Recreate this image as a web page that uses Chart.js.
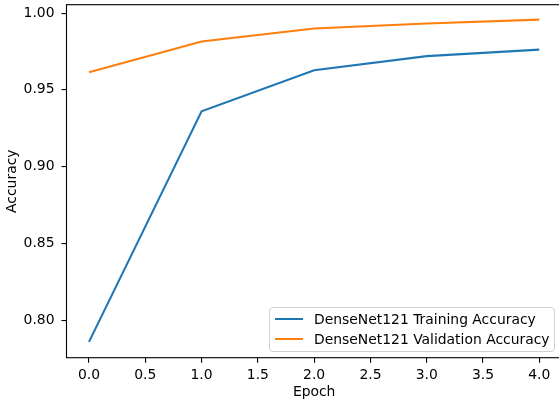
<!DOCTYPE html>
<html>
<head>
<meta charset="utf-8">
<script src="https://cdn.jsdelivr.net/npm/chart.js@4"></script>
<style>
    html, body { margin: 0; padding: 0; background: #fff; overflow: hidden; }
    #wrap { position: relative; width: 565px; height: 403px; }
    #legend {
        position: absolute; left: 269px; top: 307px; width: 284px; height: 42px;
        background: rgba(255,255,255,0.8); border: 1px solid #d0d0d0; border-radius: 4px;
        font-family: "DejaVu Sans", sans-serif; font-size: 13.9px; color: #000;
        padding-top: 1px;
    }
    .leg-row { display: flex; align-items: center; height: 20px; }
    .leg-line { width: 28px; height: 2px; margin-left: 5px; margin-right: 11px; }
</style>
</head>
<body>
<div id="wrap">
    <canvas id="accChart" width="565" height="403"></canvas>
    <div id="legend"></div>
</div>
<script>
// values
const epochs = [0, 1, 2, 3, 4];
const trainAcc = [0.7858, 0.9360, 0.9628, 0.9720, 0.9762];
const valAcc = [0.9615, 0.9815, 0.9900, 0.9933, 0.9958];
const seriesLabels = ['DenseNet121 Training Accuracy', 'DenseNet121 Validation Accuracy'];
const xTicks = [0, 0.5, 1, 1.5, 2, 2.5, 3, 3.5, 4];
const yTicks = [0.80, 0.85, 0.90, 0.95, 1.00];

const colors = ['#1f77b4', '#ff7f0e'];
const font = { family: 'DejaVu Sans', size: 13.9 };

const toPoints = (ys) => ys.map((y, i) => ({ x: epochs[i], y: y }));

// matplotlib-like box around the axes
const framePlugin = {
    id: 'frame',
    afterDraw(chart) {
        const a = chart.chartArea;
        const ctx = chart.ctx;
        ctx.save();
        ctx.strokeStyle = '#000';
        ctx.lineWidth = 1.1;
        ctx.strokeRect(a.left, a.top, a.right - a.left, a.bottom - a.top);
        ctx.restore();
    }
};

const chart = new Chart(document.getElementById('accChart').getContext('2d'), {
    type: 'line',
    data: {
        datasets: [
            { label: seriesLabels[0], data: toPoints(trainAcc), borderColor: colors[0], borderWidth: 2.1, pointRadius: 0, tension: 0, fill: false },
            { label: seriesLabels[1], data: toPoints(valAcc), borderColor: colors[1], borderWidth: 2.1, pointRadius: 0, tension: 0, fill: false }
        ]
    },
    options: {
        responsive: false,
        animation: false,
        layout: { padding: { top: 4.7, right: 3.2, left: 0, bottom: 0 } },
        plugins: { legend: { display: false }, tooltip: { enabled: false } },
        scales: {
            x: {
                type: 'linear', min: -0.2, max: 4.2,
                afterBuildTicks: (s) => { s.ticks = xTicks.map(v => ({ value: v })); },
                afterFit: (s) => { s.height = 45.3; s.paddingLeft = 0; s.paddingRight = 0; },
                grid: { drawOnChartArea: false, drawTicks: true, tickLength: 5, color: '#000', lineWidth: 1.1 },
                border: { display: false },
                ticks: { font: font, color: '#000', padding: 4, maxRotation: 0, autoSkip: false,
                    callback: (v) => Number(v).toFixed(1) },
                title: { display: true, text: 'Epoch', font: font, color: '#000', padding: { top: 4, bottom: 2 } }
            },
            y: {
                type: 'linear', min: 0.7755, max: 1.0055,
                afterBuildTicks: (s) => { s.ticks = yTicks.map(v => ({ value: v })); },
                afterFit: (s) => { s.width = 66.5; s.paddingTop = 0; s.paddingBottom = 0; },
                grid: { drawOnChartArea: false, drawTicks: true, tickLength: 5, color: '#000', lineWidth: 1.1 },
                border: { display: false },
                ticks: { font: font, color: '#000', padding: 7, autoSkip: false,
                    callback: (v) => Number(v).toFixed(2) },
                title: { display: true, text: 'Accuracy', font: font, color: '#000', padding: { top: 4, bottom: 4 } }
            }
        }
    },
    plugins: [framePlugin]
});

// legend as html, inside the plot area at lower right
const legend = document.getElementById('legend');
chart.data.datasets.forEach((ds) => {
    const row = document.createElement('div');
    row.className = 'leg-row';
    row.innerHTML = `<span class="leg-line" style="background:${ds.borderColor}"></span><span>${ds.label}</span>`;
    legend.appendChild(row);
});
</script>
</body>
</html>
